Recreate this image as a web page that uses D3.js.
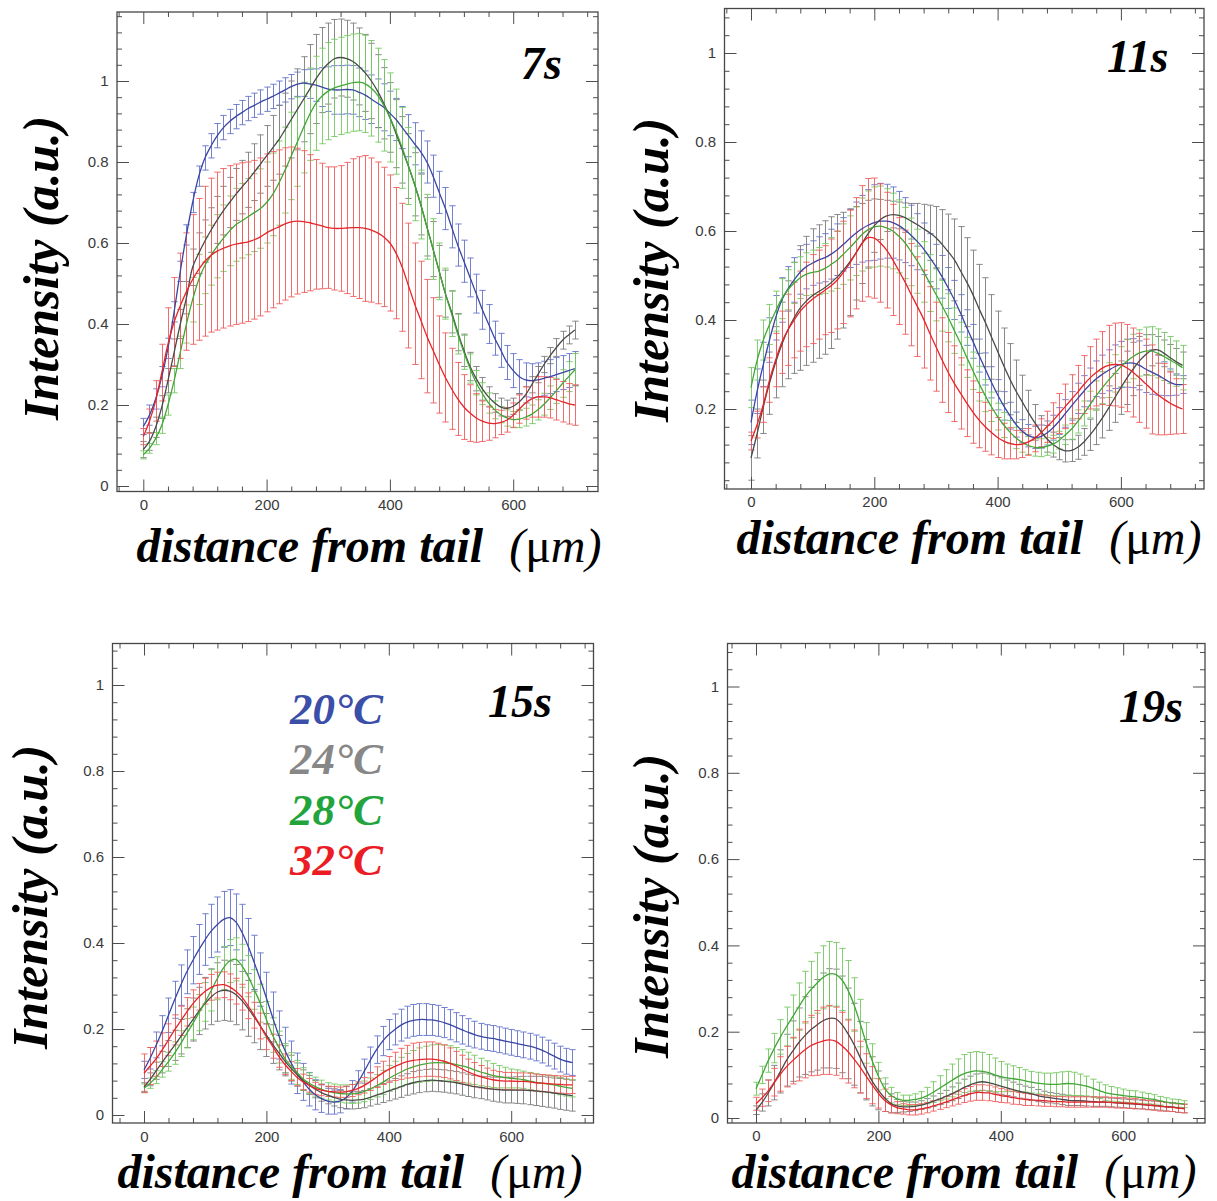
<!DOCTYPE html>
<html><head><meta charset="utf-8">
<script src="https://cdn.jsdelivr.net/npm/d3@7"></script>
<style>body{margin:0;background:#fff}svg{display:block}</style>
</head><body>
<svg id="c" width="1217" height="1201"></svg>
<script>
// ---------------- DATA ----------------
const distance = [0,10,20,30,40,50,60,70,80,90,100,110,120,130,140,150,160,170,180,190,200,210,220,230,240,250,260,270,280,290,300,310,320,330,340,350,360,370,380,390,400,410,420,430,440,450,460,470,480,490,500,510,520,530,540,550,560,570,580,590,600,610,620,630,640,650,660,670,680,690,700];
const temperatures = ["20°C","24°C","28°C","32°C"];
const timeLabels = ["7s","11s","15s","19s"];
const xTickValues = [0,200,400,600];
const yTickValues = [0,0.2,0.4,0.6,0.8,1];

// 7 s
const t7_20_mean = [.147,.175,.215,.27,.34,.43,.53,.62,.70,.765,.81,.84,.865,.885,.90,.912,.922,.932,.94,.948,.955,.962,.97,.978,.986,.992,.995,.993,.99,.985,.98,.978,.978,.979,.978,.972,.965,.955,.945,.935,.92,.905,.885,.865,.845,.825,.80,.765,.725,.685,.64,.595,.555,.515,.475,.435,.40,.365,.335,.305,.285,.27,.262,.26,.262,.266,.27,.275,.28,.285,.29];
const t7_20_err = [.02,.025,.025,.025,.025,.025,.025,.025,.025,.025,.03,.03,.03,.03,.03,.03,.03,.03,.03,.03,.03,.03,.03,.03,.03,.03,.033,.036,.04,.048,.055,.06,.06,.06,.06,.06,.06,.06,.06,.058,.055,.052,.052,.052,.052,.052,.052,.052,.052,.052,.052,.052,.052,.048,.048,.048,.048,.042,.042,.042,.042,.042,.042,.042,.042,.042,.042,.042,.042,.042,.042];
const t7_24_mean = [.09,.11,.145,.195,.26,.33,.40,.465,.54,.575,.605,.632,.657,.68,.70,.72,.738,.756,.775,.795,.815,.835,.855,.88,.905,.93,.955,.98,1.005,1.027,1.043,1.055,1.058,1.055,1.048,1.036,1.02,1.0,.975,.945,.91,.87,.83,.79,.745,.695,.64,.585,.53,.475,.43,.38,.335,.295,.265,.24,.22,.205,.195,.192,.197,.208,.225,.25,.275,.30,.322,.342,.36,.373,.385];
const t7_24_err = [.02,.022,.025,.028,.03,.033,.036,.04,.045,.05,.052,.055,.058,.06,.062,.064,.066,.068,.07,.072,.075,.08,.085,.09,.095,.1,.105,.11,.11,.105,.1,.097,.095,.095,.095,.095,.095,.093,.09,.088,.086,.084,.082,.08,.078,.075,.072,.068,.064,.058,.052,.046,.04,.035,.03,.028,.025,.023,.022,.02,.02,.02,.02,.02,.02,.02,.02,.022,.022,.022,.022];
const t7_28_mean = [.077,.093,.117,.15,.20,.26,.33,.40,.46,.51,.545,.57,.592,.612,.63,.645,.655,.665,.675,.685,.70,.72,.748,.78,.815,.85,.885,.918,.945,.963,.975,.983,.988,.992,.996,.997,.993,.982,.965,.94,.91,.875,.835,.79,.745,.695,.64,.585,.53,.475,.425,.375,.33,.29,.255,.228,.205,.188,.176,.168,.164,.165,.17,.177,.188,.202,.218,.235,.253,.27,.287];
const t7_28_err = [.01,.012,.015,.02,.025,.03,.04,.047,.055,.062,.07,.074,.078,.082,.086,.09,.092,.094,.096,.098,.1,.102,.104,.106,.108,.11,.112,.114,.116,.118,.12,.12,.12,.12,.12,.12,.12,.118,.116,.113,.11,.105,.1,.095,.09,.085,.08,.075,.07,.063,.056,.049,.042,.036,.03,.027,.025,.022,.02,.02,.02,.021,.022,.023,.025,.027,.029,.031,.034,.037,.04];
const t7_32_mean = [.122,.16,.21,.28,.35,.405,.445,.48,.51,.535,.555,.57,.58,.587,.593,.597,.60,.603,.608,.615,.625,.633,.64,.647,.652,.654,.653,.65,.646,.642,.638,.636,.636,.637,.638,.638,.636,.632,.625,.615,.60,.575,.54,.495,.45,.41,.37,.335,.30,.268,.24,.215,.195,.18,.168,.16,.155,.154,.157,.163,.175,.19,.205,.215,.22,.22,.218,.213,.208,.203,.20];
const t7_32_err = [.02,.03,.05,.07,.09,.11,.13,.145,.16,.175,.185,.19,.195,.197,.198,.198,.198,.197,.196,.195,.195,.193,.19,.188,.185,.18,.175,.168,.16,.155,.15,.152,.155,.162,.17,.175,.18,.178,.175,.172,.168,.162,.158,.154,.15,.145,.14,.13,.12,.11,.1,.09,.08,.07,.06,.05,.042,.035,.03,.03,.03,.035,.04,.045,.05,.05,.05,.05,.05,.05,.05];

// 11 s
const t11_20_mean = [.17,.24,.30,.355,.405,.445,.47,.49,.508,.52,.528,.535,.54,.548,.558,.57,.583,.595,.605,.613,.619,.622,.622,.619,.612,.602,.59,.576,.56,.54,.52,.497,.472,.445,.415,.383,.352,.32,.29,.26,.232,.207,.185,.165,.15,.14,.136,.138,.146,.158,.173,.19,.207,.224,.24,.255,.268,.278,.287,.295,.30,.303,.303,.298,.29,.283,.276,.268,.26,.255,.255];
const t11_20_err = [.05,.05,.05,.05,.05,.05,.05,.05,.05,.05,.05,.052,.054,.056,.058,.06,.065,.07,.075,.08,.085,.085,.083,.08,.077,.073,.068,.063,.058,.054,.05,.048,.046,.044,.042,.04,.038,.037,.036,.035,.034,.032,.03,.028,.026,.025,.025,.026,.027,.028,.03,.031,.032,.034,.035,.037,.04,.043,.046,.049,.052,.054,.055,.055,.053,.05,.045,.038,.03,.024,.02];
const t11_24_mean = [.09,.145,.205,.258,.305,.345,.378,.405,.427,.443,.455,.464,.473,.484,.497,.512,.53,.55,.572,.594,.612,.626,.634,.637,.635,.63,.622,.614,.605,.596,.585,.57,.553,.535,.51,.485,.457,.425,.395,.362,.33,.297,.267,.24,.216,.192,.17,.15,.133,.12,.111,.106,.107,.114,.126,.142,.16,.18,.202,.225,.248,.27,.29,.308,.322,.332,.333,.325,.315,.306,.298];
const t11_24_err = [.05,.055,.06,.07,.08,.095,.11,.125,.14,.145,.15,.15,.15,.148,.14,.13,.12,.105,.09,.075,.06,.045,.035,.03,.03,.033,.04,.048,.055,.062,.07,.078,.085,.092,.1,.1,.1,.1,.1,.095,.09,.085,.08,.07,.06,.05,.04,.035,.03,.028,.025,.025,.025,.027,.03,.035,.04,.045,.05,.055,.06,.06,.06,.055,.045,.035,.03,.03,.03,.03,.03];
const t11_28_mean = [.248,.31,.355,.39,.42,.448,.468,.483,.495,.503,.507,.51,.516,.525,.535,.548,.562,.577,.592,.603,.609,.611,.607,.60,.588,.573,.553,.532,.508,.483,.458,.432,.405,.376,.347,.316,.286,.257,.23,.205,.183,.164,.148,.135,.125,.118,.114,.113,.116,.121,.13,.142,.155,.172,.19,.21,.23,.248,.265,.28,.295,.308,.318,.326,.33,.33,.325,.318,.31,.302,.293];
const t11_28_err = [.045,.045,.045,.045,.045,.045,.045,.046,.047,.048,.05,.053,.056,.06,.064,.068,.072,.077,.082,.087,.09,.09,.088,.085,.082,.08,.076,.072,.068,.064,.06,.057,.054,.051,.048,.045,.042,.039,.036,.033,.03,.028,.026,.024,.022,.02,.02,.02,.02,.02,.02,.022,.024,.026,.028,.03,.033,.036,.039,.042,.045,.048,.05,.052,.054,.055,.055,.054,.053,.051,.05];
const t11_32_mean = [.128,.165,.21,.265,.31,.35,.378,.40,.42,.435,.447,.457,.467,.477,.49,.507,.527,.55,.572,.585,.584,.573,.557,.535,.51,.485,.457,.43,.402,.37,.34,.31,.282,.257,.235,.213,.193,.175,.16,.147,.136,.128,.123,.12,.121,.126,.134,.146,.16,.174,.19,.206,.222,.238,.255,.27,.282,.292,.298,.30,.299,.292,.282,.27,.257,.244,.232,.222,.213,.206,.20];
const t11_32_err = [.02,.03,.04,.05,.06,.07,.08,.085,.09,.095,.1,.1,.1,.105,.11,.115,.12,.125,.13,.133,.135,.133,.13,.125,.12,.117,.115,.112,.11,.105,.1,.095,.09,.085,.08,.075,.07,.062,.055,.05,.045,.04,.035,.032,.03,.03,.03,.032,.035,.04,.045,.05,.055,.06,.065,.07,.075,.082,.09,.093,.095,.098,.1,.1,.1,.1,.09,.08,.07,.062,.055];

// 15 s
const t15_20_mean = [.105,.132,.163,.196,.232,.268,.302,.333,.36,.385,.408,.428,.443,.455,.459,.449,.425,.393,.355,.315,.272,.228,.186,.151,.122,.097,.077,.06,.047,.038,.032,.03,.032,.04,.055,.077,.102,.128,.152,.172,.187,.199,.209,.216,.22,.222,.222,.221,.219,.215,.21,.204,.198,.192,.187,.183,.18,.178,.175,.172,.169,.166,.163,.16,.156,.151,.144,.137,.13,.125,.122];
const t15_20_err = [.02,.025,.03,.035,.04,.043,.047,.051,.055,.058,.06,.062,.064,.065,.065,.065,.065,.064,.063,.062,.06,.058,.056,.053,.05,.047,.043,.039,.035,.032,.03,.028,.027,.026,.025,.026,.028,.03,.032,.034,.035,.036,.037,.037,.037,.037,.037,.036,.036,.035,.035,.034,.033,.032,.031,.03,.03,.03,.03,.03,.03,.03,.03,.03,.03,.03,.03,.03,.03,.03,.03];
const t15_24_mean = [.065,.083,.103,.123,.143,.162,.182,.202,.222,.242,.26,.275,.286,.29,.288,.28,.266,.248,.228,.207,.186,.165,.145,.126,.109,.094,.081,.07,.06,.052,.046,.041,.037,.035,.034,.035,.037,.041,.046,.051,.056,.061,.066,.071,.075,.078,.08,.081,.08,.079,.077,.075,.072,.069,.066,.064,.062,.06,.059,.058,.058,.058,.058,.057,.056,.055,.053,.051,.049,.047,.045];
const t15_24_err = [.01,.015,.02,.025,.03,.035,.04,.045,.05,.055,.06,.065,.068,.07,.07,.07,.068,.065,.06,.055,.05,.045,.04,.035,.03,.027,.024,.022,.02,.02,.02,.02,.02,.02,.02,.02,.02,.02,.021,.022,.023,.024,.025,.025,.026,.026,.026,.026,.026,.026,.026,.026,.026,.026,.026,.026,.027,.028,.029,.03,.03,.031,.032,.033,.034,.035,.035,.035,.036,.036,.036];
const t15_28_mean = [.062,.074,.088,.106,.124,.144,.166,.19,.213,.238,.263,.29,.318,.342,.358,.362,.347,.323,.292,.26,.222,.186,.158,.132,.114,.099,.084,.074,.066,.06,.055,.052,.05,.049,.049,.051,.055,.061,.068,.076,.085,.093,.1,.107,.112,.116,.119,.121,.122,.121,.12,.117,.114,.11,.105,.1,.096,.092,.089,.087,.085,.084,.082,.079,.076,.074,.072,.07,.067,.064,.062];
const t15_28_err = [.01,.012,.015,.018,.022,.026,.03,.034,.038,.042,.045,.048,.05,.05,.05,.05,.05,.048,.046,.044,.042,.04,.037,.034,.031,.028,.026,.024,.022,.021,.02,.02,.02,.021,.022,.023,.024,.025,.026,.028,.03,.032,.034,.036,.038,.04,.041,.042,.042,.042,.041,.04,.038,.036,.034,.032,.03,.028,.026,.024,.022,.021,.02,.02,.02,.02,.02,.02,.02,.02,.02];
const t15_32_mean = [.097,.114,.131,.152,.175,.198,.219,.24,.259,.275,.288,.297,.302,.303,.298,.288,.274,.254,.232,.207,.182,.16,.137,.118,.102,.088,.077,.069,.062,.058,.055,.054,.053,.054,.057,.062,.069,.078,.088,.098,.106,.113,.119,.124,.127,.129,.13,.13,.128,.125,.12,.114,.107,.1,.094,.089,.085,.082,.08,.079,.079,.078,.078,.077,.075,.074,.073,.072,.071,.07,.07];
const t15_32_err = [.045,.043,.041,.039,.037,.035,.034,.033,.032,.031,.03,.03,.03,.03,.03,.03,.03,.03,.03,.03,.03,.028,.026,.024,.022,.02,.018,.016,.014,.013,.012,.012,.012,.013,.014,.015,.018,.021,.024,.027,.03,.033,.036,.038,.04,.04,.04,.04,.039,.038,.036,.034,.032,.03,.028,.026,.024,.022,.021,.02,.02,.02,.02,.02,.02,.02,.02,.02,.02,.02,.02];

// 19 s (no 20°C curve)
const t19_24_mean = [.018,.036,.058,.082,.108,.134,.155,.175,.191,.205,.216,.226,.231,.23,.217,.196,.171,.141,.112,.085,.064,.047,.034,.028,.026,.026,.027,.03,.034,.039,.044,.05,.056,.063,.071,.077,.082,.084,.082,.078,.074,.07,.066,.062,.059,.056,.052,.049,.047,.045,.043,.041,.04,.04,.039,.038,.037,.037,.036,.035,.034,.033,.032,.031,.03,.029,.028,.026,.025,.023,.022];
const t19_24_err = [.01,.02,.03,.04,.05,.06,.07,.08,.09,.098,.105,.11,.115,.115,.112,.105,.095,.083,.07,.057,.045,.032,.022,.015,.012,.011,.01,.01,.011,.012,.013,.014,.016,.018,.019,.02,.02,.02,.02,.02,.019,.018,.017,.016,.015,.015,.014,.013,.012,.012,.012,.012,.011,.011,.011,.011,.01,.01,.01,.01,.01,.01,.01,.01,.01,.01,.01,.01,.01,.01,.01];
const t19_28_mean = [.068,.1,.133,.162,.188,.212,.235,.258,.28,.298,.313,.326,.334,.333,.321,.297,.263,.22,.174,.132,.097,.069,.053,.045,.041,.041,.043,.046,.052,.06,.069,.078,.087,.096,.103,.107,.109,.108,.105,.1,.096,.093,.091,.089,.086,.083,.081,.079,.078,.078,.079,.08,.079,.077,.074,.069,.064,.059,.056,.054,.052,.05,.049,.047,.045,.043,.04,.037,.035,.034,.032];
const t19_28_err = [.015,.02,.027,.034,.04,.045,.05,.055,.06,.065,.07,.073,.075,.074,.072,.068,.062,.055,.047,.04,.032,.024,.018,.014,.012,.012,.013,.015,.019,.024,.029,.034,.038,.041,.044,.045,.045,.044,.042,.039,.035,.032,.03,.028,.026,.025,.025,.025,.026,.027,.028,.028,.027,.025,.023,.021,.019,.018,.017,.016,.015,.014,.014,.013,.012,.011,.01,.01,.009,.009,.008];
const t19_32_mean = [.033,.047,.063,.083,.102,.119,.133,.146,.158,.168,.174,.179,.181,.178,.168,.154,.137,.118,.097,.076,.057,.041,.031,.024,.021,.019,.019,.021,.024,.028,.032,.037,.042,.047,.052,.056,.059,.059,.058,.055,.052,.05,.047,.045,.043,.042,.041,.04,.039,.038,.038,.037,.037,.037,.037,.037,.037,.037,.036,.035,.035,.034,.033,.032,.03,.029,.027,.026,.025,.023,.022];
const t19_32_err = [.015,.02,.025,.032,.04,.047,.054,.06,.065,.07,.075,.078,.08,.079,.077,.073,.067,.06,.052,.043,.034,.026,.019,.014,.012,.012,.012,.012,.012,.012,.012,.013,.014,.015,.016,.017,.018,.018,.018,.017,.016,.015,.015,.014,.014,.013,.013,.013,.012,.012,.012,.012,.012,.012,.012,.012,.012,.012,.012,.012,.012,.012,.012,.011,.011,.011,.011,.01,.01,.01,.01];

// ---------------- STYLE / LAYOUT ----------------
const COLORS = {
  "20°C": {bar:"#6473cb", line:"#3a46a1", legend:"#3b4ea8"},
  "24°C": {bar:"#7c7c7c", line:"#4a4a4a", legend:"#878787"},
  "28°C": {bar:"#76c960", line:"#43a638", legend:"#21a43b"},
  "32°C": {bar:"#f25c5c", line:"#e4252a", legend:"#ec1c24"}
};
const SERIF = "'Liberation Serif','Times New Roman',serif";
const SANS = "'Liberation Sans',Arial,sans-serif";

const panels = [
  {time:timeLabels[0], frame:{l:117,t:12,r:598,b:491.5}, x0:143.3, kx:0.6165, y0:486, ky:405,
   xBase:510, title:[521,79], ylab:[58,268], xlab:[369,562],
   series:[[temperatures[0],t7_20_mean,t7_20_err],[temperatures[1],t7_24_mean,t7_24_err],[temperatures[2],t7_28_mean,t7_28_err],[temperatures[3],t7_32_mean,t7_32_err]]},
  {time:timeLabels[1], frame:{l:724.5,t:8.5,r:1204,b:489}, x0:751, kx:0.6165, y0:498, ky:445,
   xBase:506.5, title:[1107,72], ylab:[668,270], xlab:[969,554],
   series:[[temperatures[0],t11_20_mean,t11_20_err],[temperatures[1],t11_24_mean,t11_24_err],[temperatures[2],t11_28_mean,t11_28_err],[temperatures[3],t11_32_mean,t11_32_err]]},
  {time:timeLabels[2], frame:{l:112.5,t:643.5,r:593.5,b:1123}, x0:144, kx:0.612, y0:1115, ky:430,
   xBase:1141.5, title:[488,717], ylab:[47,897], xlab:[350,1188], legend:[290,724,50.3],
   series:[[temperatures[0],t15_20_mean,t15_20_err],[temperatures[1],t15_24_mean,t15_24_err],[temperatures[2],t15_28_mean,t15_28_err],[temperatures[3],t15_32_mean,t15_32_err]]},
  {time:timeLabels[3], frame:{l:727.5,t:643.5,r:1205,b:1123}, x0:756, kx:0.612, y0:1118, ky:431.5,
   xBase:1141, title:[1119,722], ylab:[668,906], xlab:[964,1188],
   series:[[temperatures[1],t19_24_mean,t19_24_err],[temperatures[2],t19_28_mean,t19_28_err],[temperatures[3],t19_32_mean,t19_32_err]]}
];

const svg = d3.select("#c");
const defs = svg.append("defs");
const fmt = d3.format("~g");

panels.forEach((p, i) => {
  const f = p.frame;
  const x = d3.scaleLinear().domain([(f.l - p.x0) / p.kx, (f.r - p.x0) / p.kx]).range([f.l, f.r]);
  const y = d3.scaleLinear().domain([(p.y0 - f.b) / p.ky, (p.y0 - f.t) / p.ky]).range([f.b, f.t]);
  const g = svg.append("g");

  defs.append("clipPath").attr("id", "clip" + i).append("rect")
    .attr("x", f.l).attr("y", f.t).attr("width", f.r - f.l).attr("height", f.b - f.t);
  const plot = g.append("g").attr("clip-path", `url(#clip${i})`);

  // error bars
  p.series.forEach(([temp, mean, err]) => {
    let d = "";
    distance.forEach((dist, j) => {
      const xx = Math.round(x(dist)) + 0.5;
      const lo = y(mean[j] - err[j]), hi = y(mean[j] + err[j]);
      d += `M${xx},${lo}V${hi}M${xx - 3.2},${hi}H${xx + 3.2}M${xx - 3.2},${lo}H${xx + 3.2}`;
    });
    plot.append("path").attr("d", d).attr("fill", "none")
      .attr("stroke", COLORS[temp].bar).attr("stroke-width", 1).attr("opacity", 0.9);
  });
  // mean curves
  const line = d3.line().x(q => x(q[0])).y(q => y(q[1])).curve(d3.curveCatmullRom);
  p.series.forEach(([temp, mean]) => {
    plot.append("path").datum(distance.map((dd, j) => [dd, mean[j]]))
      .attr("d", line).attr("fill", "none")
      .attr("stroke", COLORS[temp].line).attr("stroke-width", 1.3);
  });

  // axes (ticks inward on all four sides)
  const [xd0, xd1] = x.domain(), [yd0, yd1] = y.domain();
  const xMaj = xTickValues.filter(v => v >= xd0 && v <= xd1);
  const xMin = d3.range(-40, 721, 40).filter(v => v % 200 !== 0 && v >= xd0 && v <= xd1);
  const yMaj = yTickValues.filter(v => v >= yd0 && v <= yd1);
  const yMin = d3.range(0, 30).map(k => k * 0.04).filter((v, k) => k % 5 !== 0 && v >= yd0 && v <= yd1);
  const style = sel => {
    sel.attr("font-family", null).attr("font-size", null);
    sel.select(".domain").remove();
    sel.selectAll(".tick line").attr("stroke", "#4e4e4e").attr("stroke-width", 1);
    sel.selectAll(".tick text").attr("fill", "#3a3a3a").style("font-family", SANS).style("font-size", "15px");
  };
  g.append("g").attr("transform", `translate(0,${f.b})`)
    .call(d3.axisBottom(x).tickValues(xMaj).tickSize(-12).tickSizeOuter(0).tickPadding(p.xBase - f.b - 10.65).tickFormat(fmt)).call(style);
  g.append("g").attr("transform", `translate(0,${f.b})`)
    .call(d3.axisBottom(x).tickValues(xMin).tickSize(-5).tickFormat("")).call(style);
  g.append("g").attr("transform", `translate(0,${f.t})`)
    .call(d3.axisTop(x).tickValues(xMaj).tickSize(-12).tickFormat("")).call(style);
  g.append("g").attr("transform", `translate(0,${f.t})`)
    .call(d3.axisTop(x).tickValues(xMin).tickSize(-5).tickFormat("")).call(style);
  g.append("g").attr("transform", `translate(${f.l},0)`)
    .call(d3.axisLeft(y).tickValues(yMaj).tickSize(-12).tickPadding(8.5).tickFormat(fmt)).call(style);
  g.append("g").attr("transform", `translate(${f.l},0)`)
    .call(d3.axisLeft(y).tickValues(yMin).tickSize(-5).tickFormat("")).call(style);
  g.append("g").attr("transform", `translate(${f.r},0)`)
    .call(d3.axisRight(y).tickValues(yMaj).tickSize(-12).tickFormat("")).call(style);
  g.append("g").attr("transform", `translate(${f.r},0)`)
    .call(d3.axisRight(y).tickValues(yMin).tickSize(-5).tickFormat("")).call(style);

  g.append("rect").attr("x", f.l).attr("y", f.t).attr("width", f.r - f.l).attr("height", f.b - f.t)
    .attr("fill", "none").attr("stroke", "#474747").attr("stroke-width", 1.3);

  // panel title
  g.append("text").attr("x", p.title[0]).attr("y", p.title[1]).text(p.time)
    .style("font-family", SERIF).style("font-size", "46px").style("font-weight", "bold").style("font-style", "italic").attr("fill", "#000");

  // y-axis label
  g.append("text").attr("transform", `translate(${p.ylab[0]},${p.ylab[1]}) rotate(-90)`)
    .attr("text-anchor", "middle").text("Intensity (a.u.)")
    .style("font-family", SERIF).style("font-size", "50px").style("font-weight", "bold").style("font-style", "italic").attr("fill", "#000");

  // x-axis label
  const xl = g.append("text").attr("x", p.xlab[0]).attr("y", p.xlab[1]).attr("text-anchor", "middle")
    .style("font-family", SERIF).style("font-size", "48px").style("font-style", "italic").attr("fill", "#000");
  xl.append("tspan").style("font-weight", "bold").text("distance from tail");
  xl.append("tspan").attr("dx", 26).style("font-weight", "normal").text("(");
  xl.append("tspan").style("font-weight", "normal").style("font-style", "normal").text("μ");
  xl.append("tspan").style("font-weight", "normal").text("m)");

  // legend
  if (p.legend) {
    temperatures.forEach((t, k) => {
      g.append("text").attr("x", p.legend[0]).attr("y", p.legend[1] + k * p.legend[2]).text(t)
        .style("font-family", SERIF).style("font-size", "45px").style("font-weight", "bold").style("font-style", "italic")
        .attr("fill", COLORS[t].legend);
    });
  }
});
</script>
</body></html>
